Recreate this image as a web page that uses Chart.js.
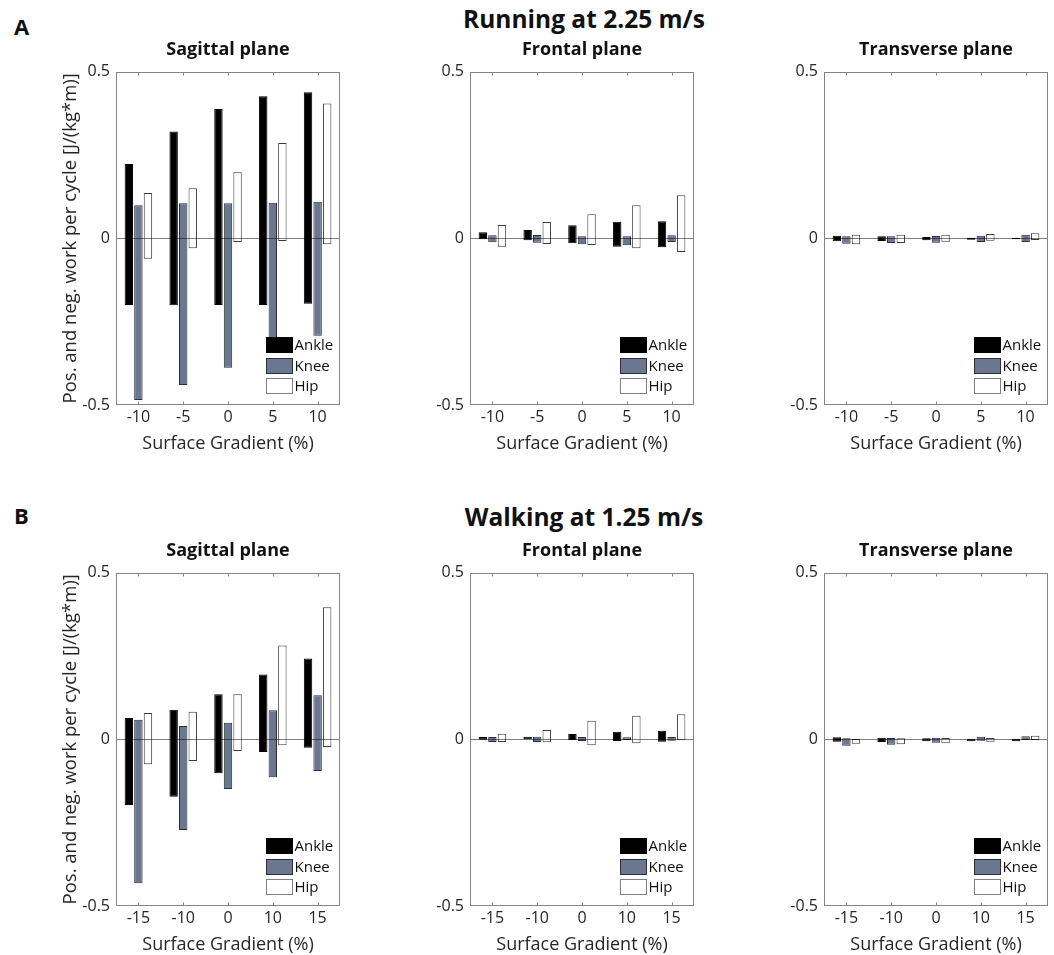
<!DOCTYPE html>
<html>
<head>
<meta charset="utf-8">
<script src="https://cdn.jsdelivr.net/npm/chart.js@4.4.0/dist/chart.umd.min.js"></script>
<style>
    body { margin: 0; background: #fff; }
    #page { position: relative; width: 1054px; height: 955px; font-family: "Open Sans", sans-serif; color: #111; overflow: hidden; }
    canvas { position: absolute; }
    .t { position: absolute; font-weight: bold; line-height: 1; white-space: nowrap; }
</style>
</head>
<body>
<div id="page"></div>
<script>
// gradient labels for the two conditions
const runGradients = ['-10', '-5', '0', '5', '10'];
const walkGradients = ['-15', '-10', '0', '10', '15'];
const jointNames = ['Ankle', 'Knee', 'Hip'];
const yTicks = [-0.5, 0, 0.5];

// [negative, positive] work per gradient, J/(kg*m)
const runSagAnkle = [[-0.200, 0.223], [-0.201, 0.320], [-0.200, 0.388], [-0.200, 0.426], [-0.196, 0.438]];
const runSagKnee  = [[-0.485, 0.099], [-0.440, 0.105], [-0.388, 0.105], [-0.330, 0.107], [-0.292, 0.110]];
const runSagHip   = [[-0.061, 0.136], [-0.030, 0.150], [-0.011, 0.198], [-0.008, 0.286], [-0.018, 0.404]];

const runFroAnkle = [[-0.003, 0.018], [-0.006, 0.025], [-0.015, 0.039], [-0.025, 0.050], [-0.027, 0.051]];
const runFroKnee  = [[-0.012, 0.009], [-0.013, 0.010], [-0.018, 0.006], [-0.021, 0.006], [-0.011, 0.009]];
const runFroHip   = [[-0.025, 0.040], [-0.017, 0.049], [-0.020, 0.072], [-0.030, 0.099], [-0.041, 0.129]];

const runTraAnkle = [[-0.009, 0.008], [-0.008, 0.006], [-0.006, 0.004], [-0.004, 0.002], [-0.003, 0.001]];
const runTraKnee  = [[-0.016, 0.006], [-0.014, 0.006], [-0.013, 0.007], [-0.011, 0.008], [-0.011, 0.011]];
const runTraHip   = [[-0.018, 0.011], [-0.014, 0.011], [-0.010, 0.011], [-0.007, 0.013], [-0.005, 0.015]];

const walkSagAnkle = [[-0.197, 0.064], [-0.172, 0.089], [-0.102, 0.135], [-0.038, 0.194], [-0.025, 0.242]];
const walkSagKnee  = [[-0.432, 0.059], [-0.272, 0.040], [-0.149, 0.050], [-0.114, 0.087], [-0.095, 0.132]];
const walkSagHip   = [[-0.075, 0.079], [-0.065, 0.083], [-0.035, 0.135], [-0.018, 0.281], [-0.023, 0.396]];

const walkFroAnkle = [[-0.001, 0.007], [0.000, 0.008], [-0.002, 0.016], [-0.005, 0.023], [-0.007, 0.026]];
const walkFroKnee  = [[-0.008, 0.007], [-0.008, 0.008], [-0.005, 0.007], [-0.002, 0.006], [-0.004, 0.007]];
const walkFroHip   = [[-0.008, 0.017], [-0.009, 0.028], [-0.018, 0.056], [-0.012, 0.071], [-0.003, 0.075]];

const walkTraAnkle = [[-0.007, 0.006], [-0.008, 0.005], [-0.006, 0.003], [-0.006, 0.002], [-0.006, 0.002]];
const walkTraKnee  = [[-0.019, 0.003], [-0.016, 0.004], [-0.010, 0.005], [-0.004, 0.008], [-0.002, 0.009]];
const walkTraHip   = [[-0.013, 0.001], [-0.015, 0.003], [-0.012, 0.004], [-0.007, 0.004], [-0.002, 0.011]];

const fills = ['#000000', '#6b7790', '#ffffff'];
const edges = ['#000000', '#2b2f38', '#3a3a3a'];
const textColor = '#262626';
const axisColor = '#858585';

const page = document.getElementById('page');

// text helper, y is the baseline
function addText(txt, x, baseline, size, align) {
    const d = document.createElement('div');
    d.className = 't';
    d.textContent = txt;
    d.style.fontSize = size + 'px';
    d.style.top = (baseline - 0.888 * size) + 'px';
    if (align === 'center') {
        d.style.left = (x - 300) + 'px';
        d.style.width = '600px';
        d.style.textAlign = 'center';
    } else {
        d.style.left = x + 'px';
    }
    page.appendChild(d);
}

// frame, inward ticks, zero line and in-axes legend (MATLAB look)
const framePlugin = {
    id: 'frame',
    afterDatasetsDraw(chart) {
        const {ctx, chartArea: a, scales: {x, y}} = chart;
        const l = Math.round(a.left) + 0.5, r = Math.round(a.right) - 0.5;
        const t = Math.round(a.top) + 0.5, b = Math.round(a.bottom) - 0.5;
        ctx.save();
        ctx.lineWidth = 1;

        const y0 = Math.round(y.getPixelForValue(0)) + 0.5;
        ctx.strokeStyle = 'rgba(0,0,0,0.5)';
        ctx.beginPath();
        ctx.moveTo(l, y0);
        ctx.lineTo(r, y0);
        ctx.stroke();

        ctx.strokeStyle = axisColor;
        ctx.strokeRect(l, t, r - l, b - t);
        ctx.beginPath();
        x.ticks.forEach((tk, i) => {
            const px = Math.round(x.getPixelForTick(i)) + 0.5;
            ctx.moveTo(px, b); ctx.lineTo(px, b - 3);
            ctx.moveTo(px, t); ctx.lineTo(px, t + 3);
        });
        ctx.stroke();

        // legend
        ctx.font = '15px "Open Sans"';
        ctx.textBaseline = 'middle';
        ctx.textAlign = 'left';
        const rows = [68, 47, 27];
        chart.data.datasets.forEach((ds, i) => {
            const bx = Math.round(a.right) - 74 + 0.5;
            const by = Math.round(a.bottom) - rows[i] + 0.5;
            ctx.fillStyle = ds.backgroundColor;
            ctx.fillRect(bx, by, 26, 15);
            ctx.strokeStyle = i === 2 ? '#808080' : ds.borderColor;
            ctx.strokeRect(bx, by, 26, 15);
            ctx.fillStyle = '#111';
            ctx.fillText(ds.label, bx + 28, by + 8);
        });
        ctx.restore();
    }
};

function makePanel(left, top, labels, series, showYTitle) {
    const c = document.createElement('canvas');
    c.width = 292;
    c.height = 404;
    c.style.left = (left - 60) + 'px';
    c.style.top = (top - 12) + 'px';
    page.appendChild(c);

    new Chart(c, {
        type: 'bar',
        data: {
            labels: labels,
            datasets: series.map((s, i) => ({
                label: jointNames[i],
                data: s,
                backgroundColor: fills[i],
                borderColor: edges[i],
                borderWidth: 1,
                borderSkipped: false,
                categoryPercentage: 0.64,
                barPercentage: 0.88
            }))
        },
        options: {
            responsive: false,
            animation: false,
            layout: { padding: { top: 12, right: 8, left: 0, bottom: 0 } },
            plugins: { legend: { display: false }, tooltip: { enabled: false } },
            scales: {
                x: {
                    grid: { display: false, drawTicks: false },
                    border: { display: false },
                    ticks: { color: textColor, font: { family: 'Open Sans', size: 16 }, padding: 3, maxRotation: 0 },
                    title: { display: true, text: 'Surface Gradient (%)', color: textColor, font: { family: 'Open Sans', size: 18 }, padding: { top: 0, bottom: 5 } },
                    afterFit: s => { s.height = 55; }
                },
                y: {
                    min: -0.5,
                    max: 0.5,
                    grid: { display: false, drawTicks: false },
                    border: { display: false },
                    afterBuildTicks: s => { s.ticks = yTicks.map(v => ({ value: v })); },
                    ticks: { color: textColor, font: { family: 'Open Sans', size: 16 }, padding: 6, callback: v => String(v) },
                    title: { display: showYTitle, text: 'Pos. and neg. work per cycle [J/(kg*m)]', color: textColor, font: { family: 'Open Sans', size: 18.5 }, padding: { top: 4, bottom: 0 } },
                    afterFit: s => { s.width = 60; }
                }
            }
        },
        plugins: [framePlugin]
    });
}

const colLeft = [116, 470, 824];
const planeTitles = ['Sagittal plane', 'Frontal plane', 'Transverse plane'];

// row A: running
addText('A', 14, 35, 22, 'left');
addText('Running at 2.25 m/s', 584, 29, 24.5, 'center');
makePanel(colLeft[0], 68, runGradients, [runSagAnkle, runSagKnee, runSagHip], true);
makePanel(colLeft[1], 68, runGradients, [runFroAnkle, runFroKnee, runFroHip], false);
makePanel(colLeft[2], 68, runGradients, [runTraAnkle, runTraKnee, runTraHip], false);

// row B: walking
addText('B', 14, 524, 22, 'left');
addText('Walking at 1.25 m/s', 584, 527, 24.5, 'center');
makePanel(colLeft[0], 569, walkGradients, [walkSagAnkle, walkSagKnee, walkSagHip], true);
makePanel(colLeft[1], 569, walkGradients, [walkFroAnkle, walkFroKnee, walkFroHip], false);
makePanel(colLeft[2], 569, walkGradients, [walkTraAnkle, walkTraKnee, walkTraHip], false);

planeTitles.forEach((p, i) => {
    addText(p, colLeft[i] + 112, 55, 18, 'center');
    addText(p, colLeft[i] + 112, 556, 18, 'center');
});
</script>
</body>
</html>
